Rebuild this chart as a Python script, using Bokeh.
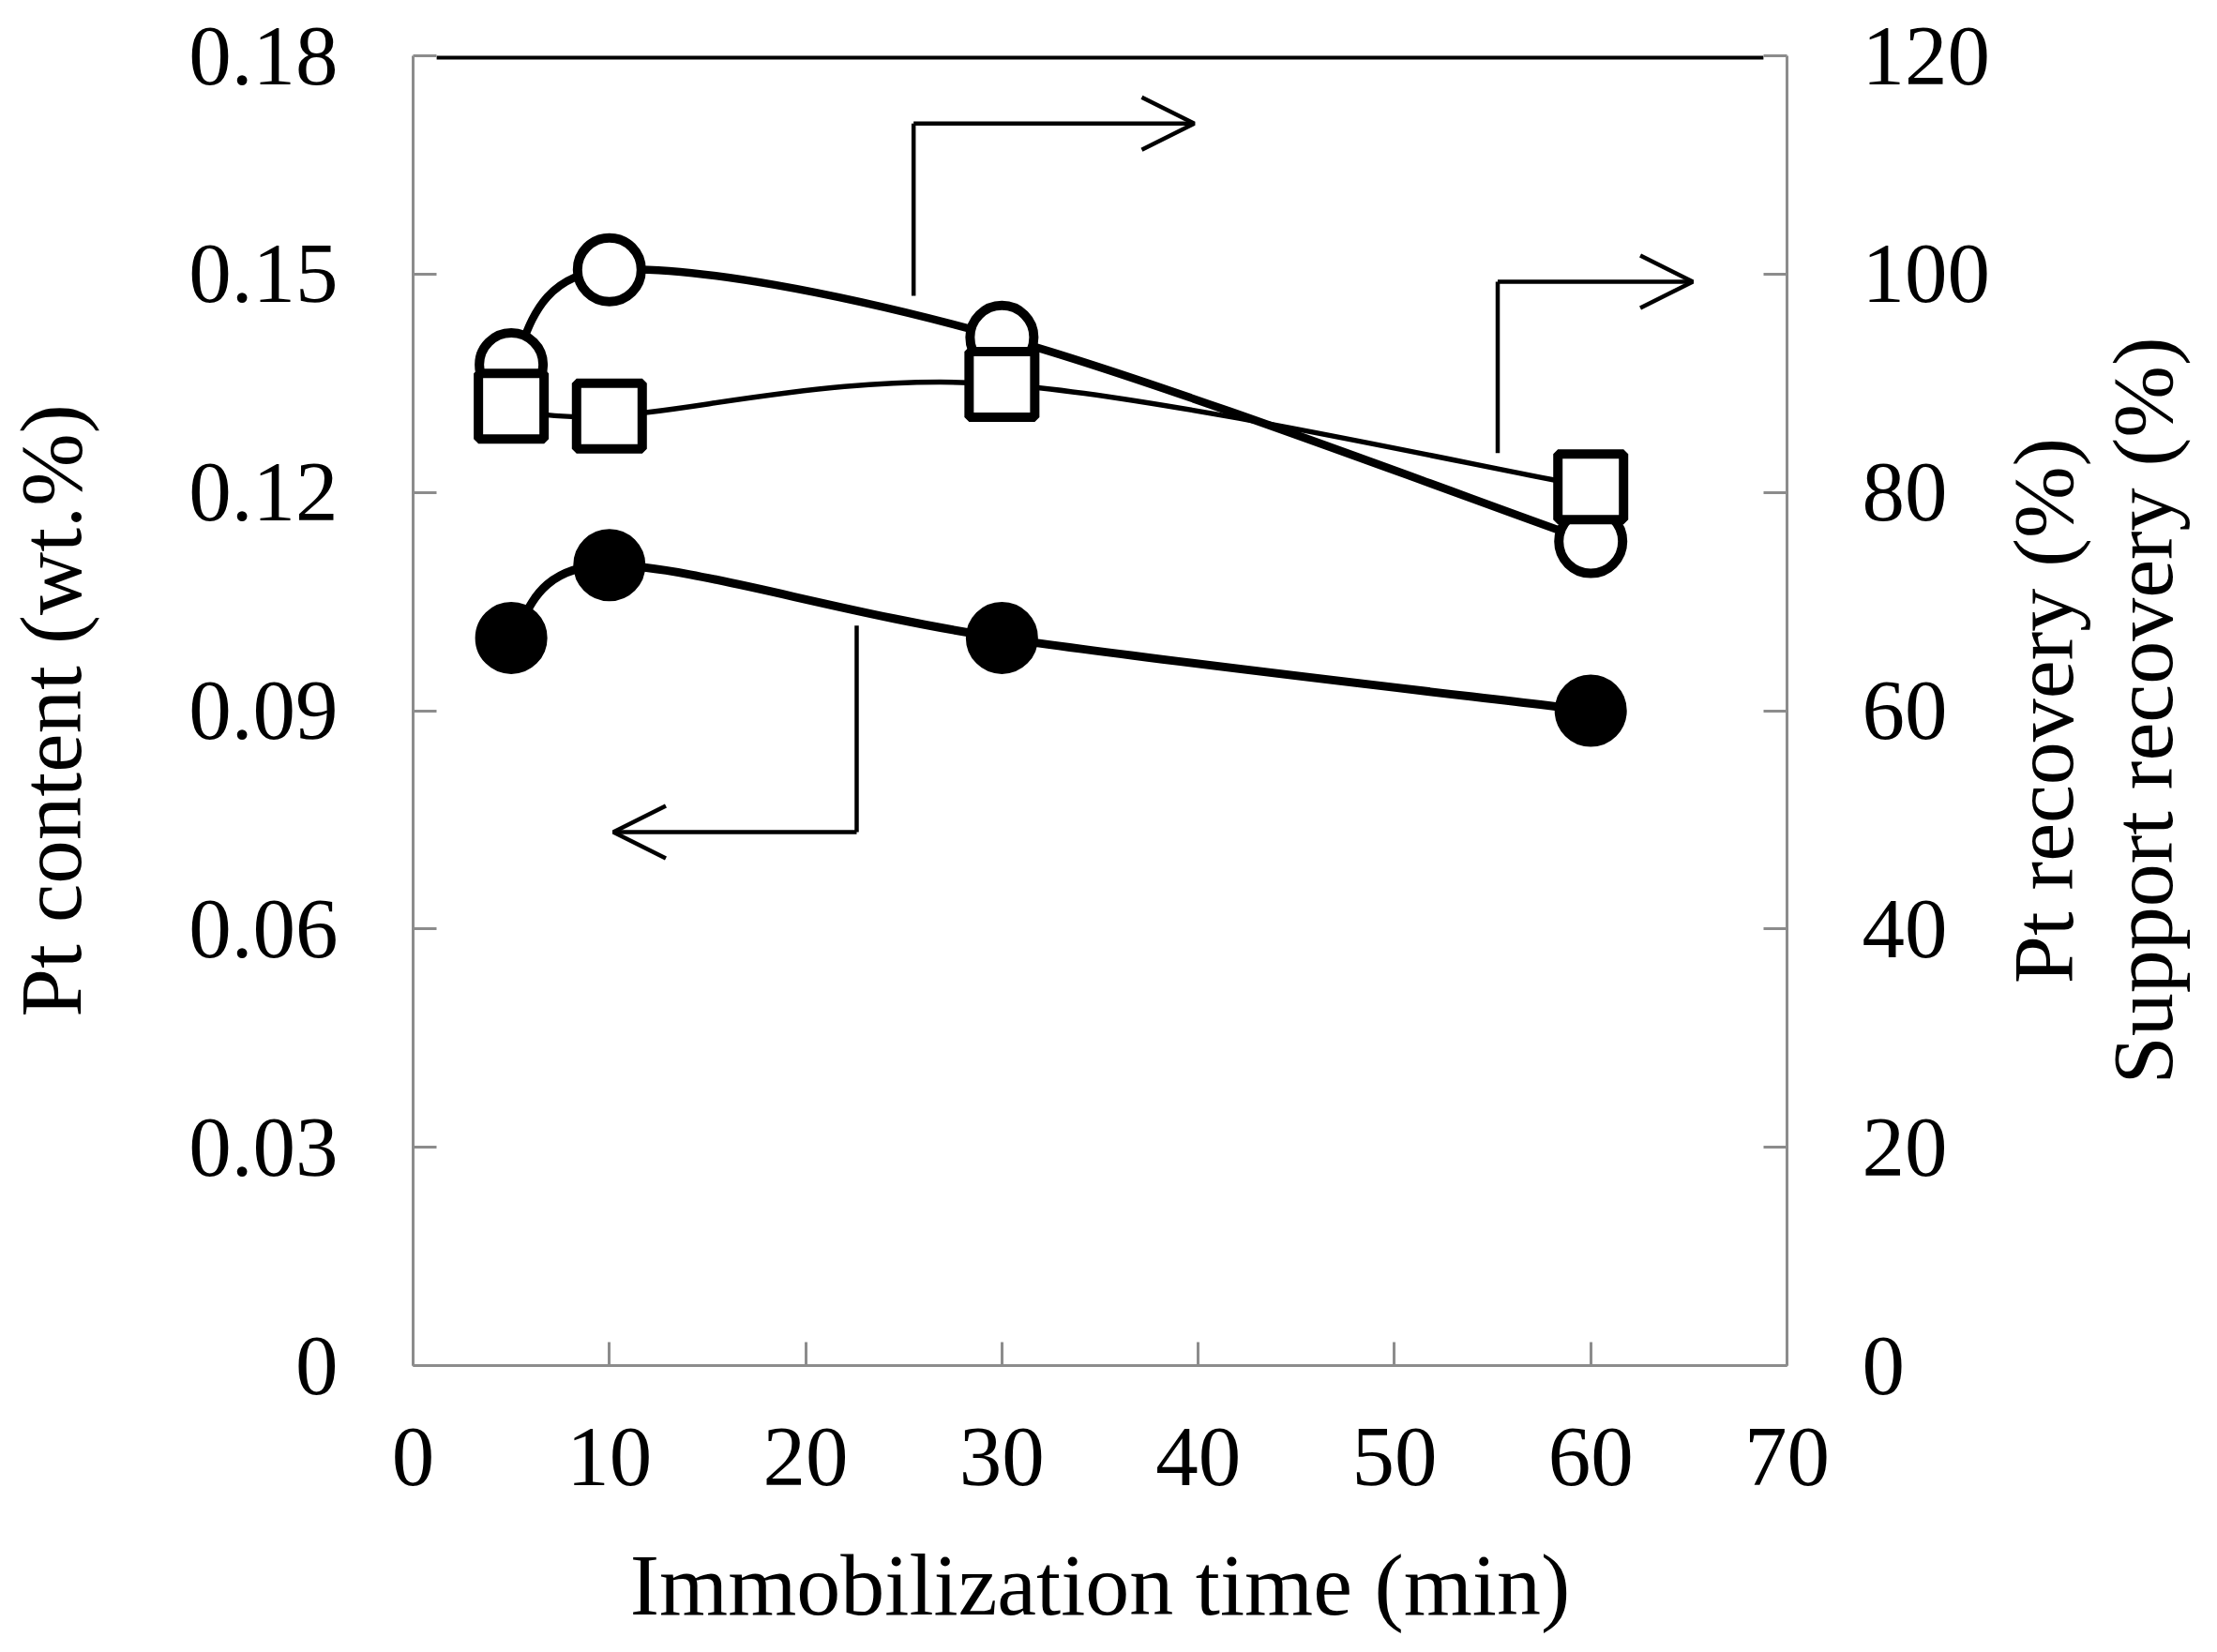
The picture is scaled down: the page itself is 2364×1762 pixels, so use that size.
import math
from bokeh.plotting import figure
from bokeh.layouts import row
from bokeh.models import (Range1d, LinearAxis, FixedTicker, NumeralTickFormatter,
                          Arrow, OpenHead)
from bokeh.embed import file_html
from bokeh.resources import INLINE

# ---------------- data ----------------
time_min = [5, 10, 30, 60]
pt_content = [0.10, 0.11, 0.10, 0.09]          # left axis (wt.%)
pt_recovery = [91.7, 100.4, 94.2, 75.5]        # right axis (%)
support_recovery = [87.9, 87.0, 89.9, 80.5]    # right axis (%)

x_ticks = [0, 10, 20, 30, 40, 50, 60, 70]
left_ticks = [0, 0.03, 0.06, 0.09, 0.12, 0.15, 0.18]
right_ticks = [0, 20, 40, 60, 80, 100, 120]

right_title = "Pt recovery (%)\nSupport recovery (%)"

# annotation arrows (vertical start, corner, horizontal end)
arrow_rec_x = [25.5, 25.5, 39.8]
arrow_rec_y = [98.0, 113.8, 113.8]
arrow_sup_x = [55.26, 55.26, 65.2]
arrow_sup_y = [83.6, 99.3, 99.3]
arrow_cont_x = [22.6, 22.6, 10.2]
arrow_cont_y = [0.1017, 0.0733, 0.0733]

top_line_x = [1.2, 68.8]
top_line_y = [0.18, 0.18]

FONT = "Liberation Serif"
GREY = "#8c8c8c"


def smooth(xs, ys):
    """Catmull-Rom style smoothing expressed as cubic Bezier segments."""
    px = [xs[0]] + list(xs) + [xs[-1]]
    py = [ys[0]] + list(ys) + [ys[-1]]
    out = dict(x0=[], y0=[], x1=[], y1=[], cx0=[], cy0=[], cx1=[], cy1=[])
    for i in range(len(xs) - 1):
        x0, y0 = px[i], py[i]
        x1, y1 = px[i + 1], py[i + 1]
        x2, y2 = px[i + 2], py[i + 2]
        x3, y3 = px[i + 3], py[i + 3]
        out["x0"].append(x1); out["y0"].append(y1)
        out["x1"].append(x2); out["y1"].append(y2)
        out["cx0"].append(x1 + (x2 - x0) / 6.0)
        out["cy0"].append(y1 + (y2 - y0) / 6.0)
        out["cx1"].append(x2 - (x3 - x1) / 6.0)
        out["cy1"].append(y2 - (y3 - y1) / 6.0)
    return out


p = figure(frame_width=1465, frame_height=1397,
           min_border_left=434, min_border_right=220,
           min_border_top=59, min_border_bottom=290,
           x_range=Range1d(0, 70), y_range=Range1d(0, 0.18),
           output_backend="svg", toolbar_location=None,
           background_fill_color="white", border_fill_color="white")
p.extra_y_ranges = {"right": Range1d(0, 120)}
p.outline_line_color = None
p.xgrid.visible = False
p.ygrid.visible = False


def style_axis(ax, ticks):
    ax.ticker = FixedTicker(ticks=ticks)
    ax.axis_line_color = GREY
    ax.axis_line_width = 3
    ax.major_tick_line_color = GREY
    ax.major_tick_line_width = 3
    ax.major_tick_in = 25
    ax.major_tick_out = 0
    ax.minor_tick_line_color = None
    ax.major_label_text_font = FONT
    ax.major_label_text_font_size = "91px"
    ax.major_label_text_color = "black"
    ax.axis_label_text_font = FONT
    ax.axis_label_text_font_style = "normal"
    ax.axis_label_text_color = "black"


xa = p.xaxis[0]
style_axis(xa, x_ticks)
xa.major_label_standoff = 67
xa.axis_label = "Immobilization time (min)"
xa.axis_label_text_font_size = "94px"
xa.axis_label_standoff = 51

ya = p.yaxis[0]
style_axis(ya, left_ticks)
ya.formatter = NumeralTickFormatter(format="0.[00]")
ya.major_label_standoff = 80
ya.axis_label = "Pt content (wt.%)"
ya.axis_label_text_font_size = "93px"
ya.axis_label_standoff = 92

ra = LinearAxis(y_range_name="right")
style_axis(ra, right_ticks)
ra.major_label_standoff = 80
p.add_layout(ra, "right")

# top black border line
p.line(top_line_x, top_line_y, line_color="black", line_width=8)

# Pt content (filled circles)
s = smooth(time_min, pt_content)
p.bezier(x0=s["x0"], y0=s["y0"], x1=s["x1"], y1=s["y1"],
         cx0=s["cx0"], cy0=s["cy0"], cx1=s["cx1"], cy1=s["cy1"],
         line_color="black", line_width=9)
p.scatter(time_min, pt_content, marker="circle", size=68,
          fill_color="black", line_color="black", line_width=9)

# Pt recovery (open circles)
s = smooth(time_min, pt_recovery)
p.bezier(x0=s["x0"], y0=s["y0"], x1=s["x1"], y1=s["y1"],
         cx0=s["cx0"], cy0=s["cy0"], cx1=s["cx1"], cy1=s["cy1"],
         line_color="black", line_width=8.5, y_range_name="right")
p.scatter(time_min, pt_recovery, marker="circle", size=68,
          fill_color="white", line_color="black", line_width=10,
          y_range_name="right")

# Support recovery (open squares)
s = smooth(time_min, support_recovery)
p.bezier(x0=s["x0"], y0=s["y0"], x1=s["x1"], y1=s["y1"],
         cx0=s["cx0"], cy0=s["cy0"], cx1=s["cx1"], cy1=s["cy1"],
         line_color="black", line_width=5.5, y_range_name="right")
p.scatter(time_min, support_recovery, marker="square", size=70,
          fill_color="white", line_color="black", line_width=10,
          y_range_name="right")

# arrows
AW = 4.5
p.line(arrow_rec_x[:2], arrow_rec_y[:2], line_color="black", line_width=AW,
       y_range_name="right")
p.add_layout(Arrow(end=OpenHead(size=56, line_width=AW, line_color="black"),
                   x_start=arrow_rec_x[1], y_start=arrow_rec_y[1],
                   x_end=arrow_rec_x[2], y_end=arrow_rec_y[2],
                   line_width=AW, line_color="black", y_range_name="right"))
p.line(arrow_sup_x[:2], arrow_sup_y[:2], line_color="black", line_width=AW,
       y_range_name="right")
p.add_layout(Arrow(end=OpenHead(size=56, line_width=AW, line_color="black"),
                   x_start=arrow_sup_x[1], y_start=arrow_sup_y[1],
                   x_end=arrow_sup_x[2], y_end=arrow_sup_y[2],
                   line_width=AW, line_color="black", y_range_name="right"))
p.line(arrow_cont_x[:2], arrow_cont_y[:2], line_color="black", line_width=AW)
p.add_layout(Arrow(end=OpenHead(size=56, line_width=AW, line_color="black"),
                   x_start=arrow_cont_x[1], y_start=arrow_cont_y[1],
                   x_end=arrow_cont_x[2], y_end=arrow_cont_y[2],
                   line_width=AW, line_color="black"))

# side panel carrying the right-hand title (reads bottom-to-top)
q = figure(frame_width=1, frame_height=1397,
           min_border_left=0, min_border_right=0,
           min_border_top=59, min_border_bottom=290,
           x_range=Range1d(0, 1), y_range=Range1d(0, 120),
           output_backend="svg", toolbar_location=None,
           background_fill_color="white", border_fill_color="white")
q.outline_line_color = None
q.xgrid.visible = False
q.ygrid.visible = False
q.xaxis.visible = False
qa = q.yaxis[0]
qa.ticker = FixedTicker(ticks=[])
qa.axis_line_color = None
qa.major_tick_line_color = None
qa.minor_tick_line_color = None
qa.major_tick_in = 0
qa.major_tick_out = 0
qa.major_label_standoff = 0
qa.axis_label = right_title
qa.axis_label_standoff = 0
qa.axis_label_text_font = FONT
qa.axis_label_text_font_size = "92px"
qa.axis_label_text_font_style = "normal"
qa.axis_label_text_color = "black"
qa.axis_label_text_line_height = 1.03

layout = row(p, q, spacing=0)
open("out.html", "w").write(file_html(layout, INLINE))
